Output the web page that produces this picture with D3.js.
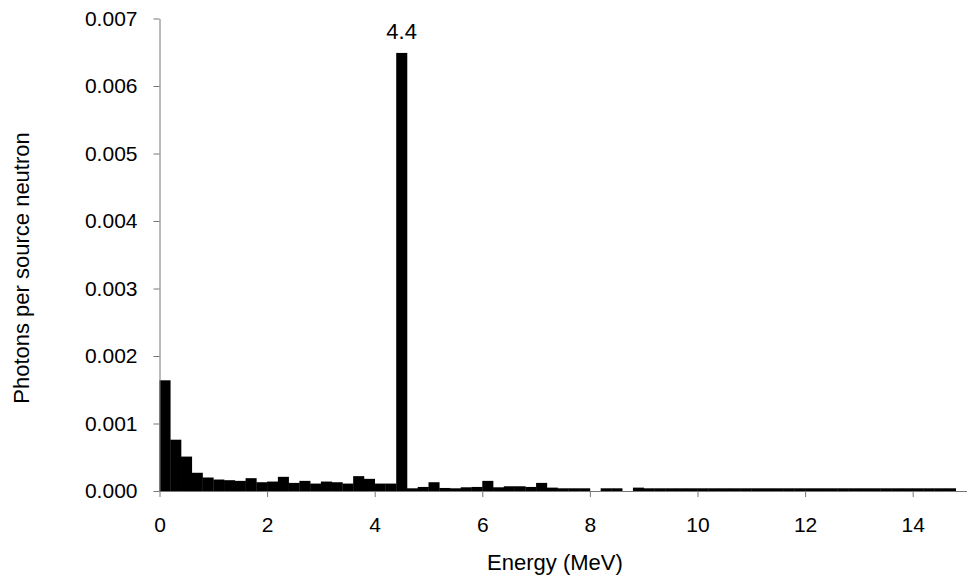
<!DOCTYPE html>
<html>
<head>
<meta charset="utf-8">
<script src="https://cdn.jsdelivr.net/npm/d3@7"></script>
<style>
  body { margin: 0; background: #fff; }
  svg { display: block; font-family: "Liberation Sans", Arial, Helvetica, sans-serif; }
</style>
</head>
<body>
<div id="chart"></div>
<script>
// bin lower edges (MeV), each bin is 0.2 MeV wide
const binStarts = [
  0.0, 0.2, 0.4, 0.6, 0.8, 1.0, 1.2, 1.4, 1.6, 1.8,
  2.0, 2.2, 2.4, 2.6, 2.8, 3.0, 3.2, 3.4, 3.6, 3.8,
  4.0, 4.2, 4.4, 4.6, 4.8, 5.0, 5.2, 5.4, 5.6, 5.8,
  6.0, 6.2, 6.4, 6.6, 6.8, 7.0, 7.2, 7.4, 7.6, 7.8,
  8.0, 8.2, 8.4, 8.6, 8.8, 9.0, 9.2, 9.4, 9.6, 9.8,
  10.0, 10.2, 10.4, 10.6, 10.8, 11.0, 11.2, 11.4, 11.6, 11.8,
  12.0, 12.2, 12.4, 12.6, 12.8, 13.0, 13.2, 13.4, 13.6, 13.8,
  14.0, 14.2, 14.4, 14.6
];
const binWidth = 0.2;

// photons per source neutron
const photons = [
  0.00164, 0.00076, 0.00051, 0.00027, 0.00020, 0.00017, 0.00016, 0.00015, 0.00019, 0.00013,
  0.00014, 0.00021, 0.00012, 0.00015, 0.00011, 0.00014, 0.00013, 0.00011, 0.00022, 0.00018,
  0.00011, 0.00011, 0.00649, 0.00004, 0.00006, 0.00013, 0.000045, 0.00004, 0.000055, 0.00006,
  0.00015, 0.000055, 0.00007, 0.00007, 0.00006, 0.00012, 0.00005, 0.00004, 0.00004, 0.00004,
  0.0, 0.00004, 0.00004, 0.0, 0.00005, 0.00004, 0.00004, 0.00004, 0.00004, 0.00004,
  0.00004, 0.00004, 0.00004, 0.00004, 0.00004, 0.00004, 0.00004, 0.00004, 0.00004, 0.00004,
  0.00004, 0.00004, 0.00004, 0.00004, 0.00004, 0.00004, 0.00004, 0.00004, 0.00004, 0.00004,
  0.00004, 0.00004, 0.00004, 0.00004
];

const xTicks = [0, 2, 4, 6, 8, 10, 12, 14];
const yTicks = [0, 0.001, 0.002, 0.003, 0.004, 0.005, 0.006, 0.007];
const peakLabel = "4.4";

const width = 969, height = 578;
const margin = { top: 18.5, right: 2.5, bottom: 87, left: 159.5 };

const svg = d3.select("#chart").append("svg")
  .attr("width", width)
  .attr("height", height);

const x = d3.scaleLinear().domain([0, 15]).range([margin.left, width - margin.right]);
const y = d3.scaleLinear().domain([0, 0.007]).range([height - margin.bottom, margin.top]);

const bins = binStarts.map((e, i) => ({ e, v: photons[i] }));

svg.append("g")
  .selectAll("rect")
  .data(bins)
  .join("rect")
  .attr("x", d => x(d.e))
  .attr("width", d => x(d.e + binWidth) - x(d.e) + 0.3)
  .attr("y", d => y(d.v))
  .attr("height", d => y(0) - y(d.v))
  .attr("fill", "#000");

// peak annotation
const peak = bins[d3.maxIndex(bins, d => d.v)];
svg.append("text")
  .attr("x", x(peak.e + binWidth / 2))
  .attr("y", y(peak.v) - 14)
  .attr("text-anchor", "middle")
  .attr("font-size", 22)
  .attr("fill", "#000")
  .text(peakLabel);

const xAxis = svg.append("g")
  .attr("transform", `translate(0,${y(0)})`)
  .call(d3.axisBottom(x).tickValues(xTicks).tickFormat(d3.format("d")).tickSize(6).tickSizeOuter(0).tickPadding(20));

const yAxis = svg.append("g")
  .attr("transform", `translate(${x(0)},0)`)
  .call(d3.axisLeft(y).tickValues(yTicks).tickFormat(d3.format(".3f")).tickSize(6).tickSizeOuter(0).tickPadding(16));

[xAxis, yAxis].forEach(g => {
  g.select(".domain").attr("stroke", "#777");
  g.selectAll(".tick line").attr("stroke", "#777");
  g.selectAll(".tick text").attr("font-size", 21).attr("fill", "#000").attr("font-family", null);
});

svg.append("text")
  .attr("x", x(7.35))
  .attr("y", 570)
  .attr("text-anchor", "middle")
  .attr("font-size", 22)
  .text("Energy (MeV)");

svg.append("text")
  .attr("transform", "translate(29,268) rotate(-90)")
  .attr("text-anchor", "middle")
  .attr("font-size", 22)
  .text("Photons per source neutron");
</script>
</body>
</html>
